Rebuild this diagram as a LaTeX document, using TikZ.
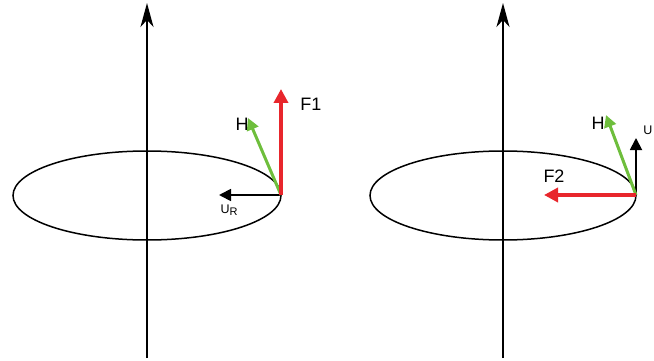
\documentclass[tikz,border=0pt]{standalone}
\usepackage{fontspec}
\setmainfont{Liberation Sans}
\usetikzlibrary{arrows.meta}
\definecolor{fred}{RGB}{232,38,44}
\definecolor{hgreen}{RGB}{110,190,60}
\begin{document}
\begin{tikzpicture}[x=1pt,y=-1pt,
  axis/.style={line width=1.7pt,-{Stealth[length=24pt,width=13pt,inset=7pt]}},
  ring/.style={line width=1.5pt},
  fvec/.style={draw=fred,line width=4.2pt,-{Triangle[length=14pt,width=14pt]},fred},
  hvec/.style={draw=hgreen,line width=3pt,-{Triangle[length=12pt,width=12pt]},hgreen},
  uvec/.style={line width=1.8pt,-{Triangle[length=12pt,width=12pt]}},
  lbl/.style={font=\fontsize{18}{18}\selectfont,inner sep=0pt},
  slbl/.style={font=\fontsize{12.5}{12.5}\selectfont,inner sep=0pt}]
\useasboundingbox (0,0) rectangle (654,361);
% left
\coordinate (la0) at (147,358);
\coordinate (la1) at (147,3);
\draw[ring] (147,195.5) ellipse [x radius=134, y radius=44.5];
\draw[axis] (la0) -- (la1);
\coordinate (o1) at (281,195);
\coordinate (f1) at (281,89);
\coordinate (h1) at (248,118);
\coordinate (u1) at (219,195);
\draw[uvec] (o1) -- (u1);
\draw[hvec] (o1) -- (h1);
\draw[fvec] (o1) -- (f1);
\node[lbl] (tF1) at (311,104) {F1};
\node[lbl] (tH1) at (242,124) {H};
\node[slbl] (tU1) at (229,210) {U\raisebox{-1.5pt}{\fontsize{11}{11}\selectfont R}};
% right
\coordinate (ra0) at (503,358);
\coordinate (ra1) at (503,3);
\draw[ring] (503,195.5) ellipse [x radius=133, y radius=44.5];
\draw[axis] (ra0) -- (ra1);
\coordinate (o2) at (636,195);
\coordinate (u2) at (636,138);
\coordinate (h2) at (606,115);
\coordinate (f2) at (544,195);
\draw[uvec] (o2) -- (u2);
\draw[hvec] (o2) -- (h2);
\draw[fvec] (o2) -- (f2);
\node[lbl] (tF2) at (554,176) {F2};
\node[lbl] (tH2) at (598,123) {H};
\node[slbl] (tU2) at (648,130) {U};
\end{tikzpicture}
\end{document}
